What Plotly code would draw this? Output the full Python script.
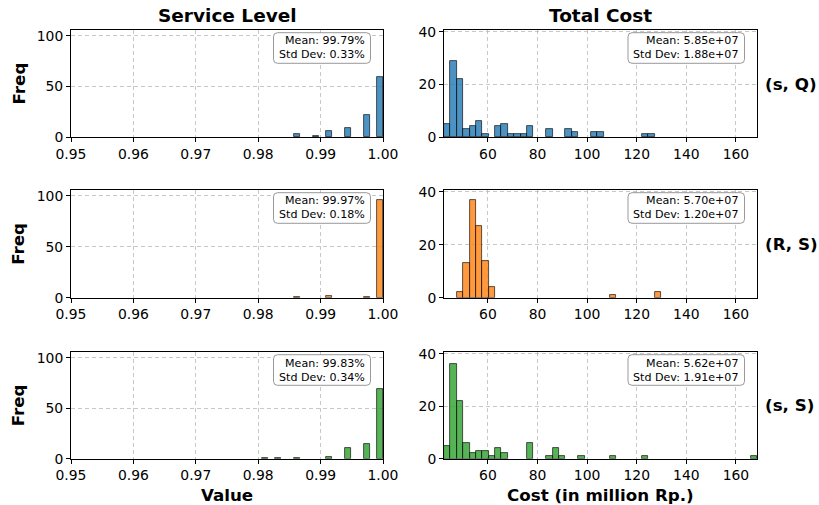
import numpy as np
import plotly.graph_objects as go
from plotly.subplots import make_subplots

# ---- data -------------------------------------------------------------
policies = ["(s, Q)", "(R, S)", "(s, S)"]
colors = ["rgba(31,119,180,0.8)", "rgba(255,127,14,0.8)", "rgba(44,160,44,0.8)"]

# service level histogram: 19 bins of equal width ending at 1.0
sl_bin_width = 0.00102
sl_n_bins = 19
sl_counts_sQ = [0, 0, 0, 0, 0, 3, 0, 0, 1, 0, 6, 0, 0, 9, 0, 0, 22, 0, 59]
sl_counts_RS = [0, 0, 0, 0, 0, 1, 0, 0, 0, 0, 2, 0, 0, 0, 0, 0, 1, 0, 96]
sl_counts_sS = [1, 0, 1, 0, 0, 1, 0, 0, 0, 0, 2, 0, 0, 11, 0, 0, 15, 0, 69]

# total cost histogram (million Rp.): 49 shared bins, non-empty bins only
cost_bin_start = 42.3
cost_bin_end = 168.5
cost_n_bins = 49
cost_counts_sQ = {0: 5, 1: 29, 2: 22, 3: 3, 4: 4, 5: 6, 6: 1, 8: 4, 9: 5, 10: 1,
                  11: 1, 12: 1, 13: 4, 16: 3, 19: 3, 20: 2, 23: 2, 24: 2, 31: 1, 32: 1}
cost_counts_RS = {2: 2, 3: 13, 4: 37, 5: 27, 6: 14, 7: 4, 26: 1, 33: 2}
cost_counts_sS = {0: 5, 1: 36, 2: 22, 3: 6, 4: 2, 5: 3, 6: 3, 7: 1, 8: 4, 9: 2,
                  13: 6, 16: 1, 17: 4, 18: 1, 21: 1, 26: 1, 31: 1, 48: 1}

sl_mean = ["99.79%", "99.97%", "99.83%"]
sl_std = ["0.33%", "0.18%", "0.34%"]
cost_mean = ["5.85e+07", "5.70e+07", "5.62e+07"]
cost_std = ["1.88e+07", "1.20e+07", "1.91e+07"]

sl_ticks = [0.95, 0.96, 0.97, 0.98, 0.99, 1.00]
cost_ticks = [60, 80, 100, 120, 140, 160]

# ---- figure geometry ----------------------------------------------------
W, H = 819, 505
FONT = "DejaVu Sans"


def fx(px):
    return px / W


def fy(py):
    return 1 - py / H


col_px = [(71, 383), (444, 757)]
row_px = [(30, 137), (190, 297.7), (352, 458.7)]
box_w = [97, 116.5]   # stats box width per column (px)
box_h = 30.6

fig = make_subplots(rows=3, cols=2)

sl_edges = 1.0 - sl_bin_width * np.arange(sl_n_bins, -1, -1)
sl_centers = (sl_edges[:-1] + sl_edges[1:]) / 2
cost_edges = np.linspace(cost_bin_start, cost_bin_end, cost_n_bins + 1)
cost_centers = (cost_edges[:-1] + cost_edges[1:]) / 2
cost_w = cost_edges[1] - cost_edges[0]

sl_all = [sl_counts_sQ, sl_counts_RS, sl_counts_sS]
cost_all = [cost_counts_sQ, cost_counts_RS, cost_counts_sS]

line = dict(color="rgba(0,0,0,0.8)", width=0.8)
for r in range(3):
    counts = [v if v > 0 else None for v in sl_all[r]]
    fig.add_trace(go.Bar(x=sl_centers, y=counts, width=sl_bin_width,
                         marker=dict(color=colors[r], line=line),
                         showlegend=False, hoverinfo="x+y"), row=r + 1, col=1)
    cdict = cost_all[r]
    cc = [cdict.get(i) for i in range(cost_n_bins)]
    fig.add_trace(go.Bar(x=cost_centers, y=cc, width=cost_w,
                         marker=dict(color=colors[r], line=line),
                         showlegend=False, hoverinfo="x+y"), row=r + 1, col=2)

axis_common = dict(showline=True, linecolor="black", linewidth=1, mirror=True,
                   ticks="outside", ticklen=4, tickwidth=1, tickcolor="black",
                   showgrid=True, gridcolor="rgba(176,176,176,0.7)",
                   griddash="4px,3px", gridwidth=1, zeroline=False,
                   automargin=False,
                   tickfont=dict(family=FONT, size=13.9, color="black"))

for r in range(3):
    for c in range(2):
        idx = r * 2 + c + 1
        xa = "xaxis" if idx == 1 else f"xaxis{idx}"
        ya = "yaxis" if idx == 1 else f"yaxis{idx}"
        x0, x1 = col_px[c]
        t, b = row_px[r]
        if c == 0:
            xcfg = dict(range=[0.95, 1.0], tickvals=sl_ticks,
                        ticktext=[f"{v:.2f}" for v in sl_ticks])
            ycfg = dict(range=[0, 105.6], tickvals=[0, 50, 100])
        else:
            xcfg = dict(range=[cost_bin_start, cost_bin_end], tickvals=cost_ticks)
            ycfg = dict(range=[0, 40.7], tickvals=[0, 20, 40])
        fig.layout[xa].update(domain=[fx(x0), fx(x1)], **axis_common, **xcfg)
        fig.layout[ya].update(domain=[fy(b), fy(t)], **axis_common, **ycfg)

annotations = []
shapes = []


def txt(text, x, y, size, bold=True, angle=0, xanchor="center", yanchor="middle"):
    annotations.append(dict(text=f"<b>{text}</b>" if bold else text,
                            x=x, y=y, xref="paper", yref="paper",
                            showarrow=False, textangle=angle,
                            xanchor=xanchor, yanchor=yanchor,
                            font=dict(family=FONT, size=size, color="black")))


def rounded_box(x0, y0, x1, y1, rad=4):
    # rounded rectangle in pixel space, converted to paper coordinates
    pts = [
        f"M {fx(x0 + rad)} {fy(y0)}",
        f"L {fx(x1 - rad)} {fy(y0)}",
        f"Q {fx(x1)} {fy(y0)} {fx(x1)} {fy(y0 + rad)}",
        f"L {fx(x1)} {fy(y1 - rad)}",
        f"Q {fx(x1)} {fy(y1)} {fx(x1 - rad)} {fy(y1)}",
        f"L {fx(x0 + rad)} {fy(y1)}",
        f"Q {fx(x0)} {fy(y1)} {fx(x0)} {fy(y1 - rad)}",
        f"L {fx(x0)} {fy(y0 + rad)}",
        f"Q {fx(x0)} {fy(y0)} {fx(x0 + rad)} {fy(y0)} Z",
    ]
    shapes.append(dict(type="path", path=" ".join(pts), xref="paper", yref="paper",
                       fillcolor="white", line=dict(color="rgba(128,128,128,0.8)", width=1),
                       layer="above"))


txt("Service Level", fx(227), fy(15), 18.5)
txt("Total Cost", fx(600.5), fy(15), 18.5)
txt("Value", fx(227), fy(495), 16.7)
txt("Cost (in million Rp.)", fx(600.5), fy(495), 16.7)

for r in range(3):
    t, b = row_px[r]
    mid = (t + b) / 2
    txt("Freq", fx(18), fy(mid), 16.7, angle=-90)
    txt(policies[r], fx(763), fy(mid), 16.7, xanchor="left")
    # stats boxes
    for c, (m, s) in enumerate([(sl_mean[r], sl_std[r]), (cost_mean[r], cost_std[r])]):
        right = col_px[c][1] - 12.5
        top = t + 2.7
        rounded_box(right - box_w[c], top, right, top + box_h)
        annotations.append(dict(
            text=f"Mean: {m}<br>Std Dev: {s}", x=fx(right - 3.5), y=fy(top + box_h / 2),
            xref="paper", yref="paper", showarrow=False,
            xanchor="right", yanchor="middle", align="right",
            font=dict(family=FONT, size=11.1, color="black")))

fig.update_layout(width=W, height=H, margin=dict(l=0, r=0, t=0, b=0),
                  plot_bgcolor="white", paper_bgcolor="white",
                  annotations=annotations, shapes=shapes, bargap=0)

fig.write_html("out.html")
